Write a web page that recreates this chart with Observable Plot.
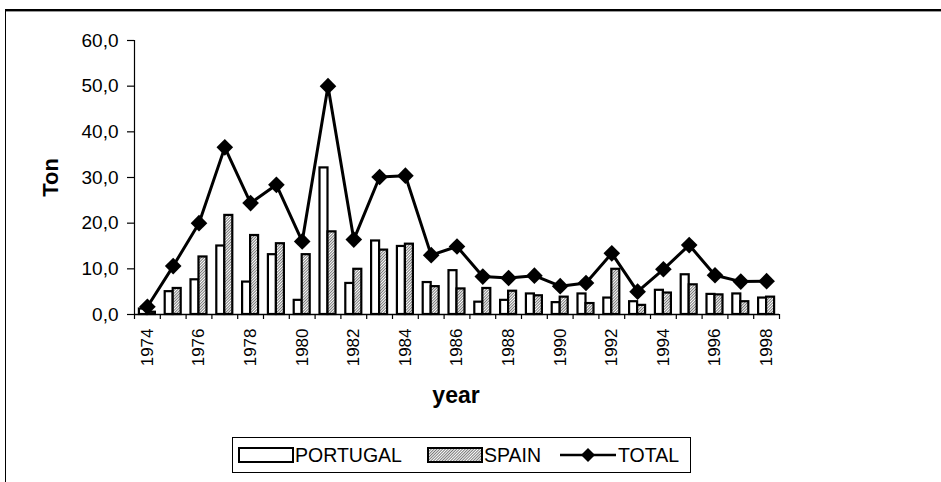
<!DOCTYPE html>
<html>
<head>
<meta charset="utf-8">
<script src="https://cdn.jsdelivr.net/npm/d3@7"></script>
<script src="https://cdn.jsdelivr.net/npm/@observablehq/plot@0.6"></script>
<style>
  html, body { margin: 0; padding: 0; background: #fff; }
  #wrap { position: relative; width: 941px; height: 482px; overflow: hidden; font-family: "Liberation Sans", Arial, sans-serif; }
  #frame { position: absolute; left: 5px; top: 9px; width: 960px; height: 500px; border-top: 2px solid #000; border-left: 1.5px solid #000; box-shadow: 0 1px 0 #999 inset; }
  #chart { position: absolute; left: 0; top: 0; }
  #legend { position: absolute; left: 232px; top: 437px; width: 457px; height: 34px; border: 1px solid #000; background: #fff; font-size: 19.5px; color: #000; }
  #legend .it { position: absolute; top: 0; height: 34px; display: flex; align-items: center; }
  #legend svg { display: block; }
</style>
</head>
<body>
<div id="wrap">
  <div id="frame"></div>
  <div id="chart"></div>
  <div id="legend">
    <div class="it" style="left:5px">
      <svg width="56" height="16"><rect x="1" y="1" width="54" height="14" fill="#fff" stroke="#000" stroke-width="2"/></svg>
      <span style="margin-left:1px">PORTUGAL</span>
    </div>
    <div class="it" style="left:194px">
      <svg width="56" height="16">
        <defs><pattern id="hatchL" width="2" height="2" patternUnits="userSpaceOnUse" patternTransform="rotate(45)"><rect width="2" height="2" fill="#fff"/><line x1="0.5" y1="0" x2="0.5" y2="2" stroke="#777" stroke-width="1"/></pattern></defs>
        <rect x="1" y="1" width="54" height="14" fill="url(#hatchL)" stroke="#000" stroke-width="2"/></svg>
      <span style="margin-left:1px">SPAIN</span>
    </div>
    <div class="it" style="left:327px">
      <svg width="56" height="20"><line x1="0" y1="10" x2="56" y2="10" stroke="#000" stroke-width="2.5"/><path d="M28,3 L35,10 L28,17 L21,10Z" fill="#000"/></svg>
      <span style="margin-left:2px">TOTAL</span>
    </div>
  </div>
</div>
<script>
const years = [1974,1975,1976,1977,1978,1979,1980,1981,1982,1983,1984,1985,1986,1987,1988,1989,1990,1991,1992,1993,1994,1995,1996,1997,1998];
const portugal = [1.2,5.0,7.6,15.0,7.1,13.1,3.1,32.1,6.8,16.1,14.9,7.0,9.6,2.7,3.1,4.5,2.6,4.5,3.6,2.8,5.3,8.7,4.4,4.5,3.6];
const spain = [0.5,5.7,12.6,21.7,17.3,15.5,13.1,18.1,9.9,14.1,15.4,6.1,5.6,5.7,5.1,4.1,3.8,2.4,9.9,2.0,4.7,6.5,4.3,2.8,3.8];
const total = [1.7,10.6,20.0,36.6,24.4,28.4,16.0,50.0,16.4,30.1,30.4,13.0,14.9,8.3,8.0,8.5,6.2,6.9,13.4,5.0,9.9,15.2,8.6,7.2,7.3];
const yTicks = [0,10,20,30,40,50,60];
const xLabelYears = [1974,1976,1978,1980,1982,1984,1986,1988,1990,1992,1994,1996,1998];

const half = 0.31;
const bounds = years.map(y => y - 0.5).concat([years[years.length - 1] + 0.5]);
const font = "'Liberation Sans', Arial, sans-serif";

const chart = Plot.plot({
  width: 941,
  height: 420,
  marginLeft: 134,
  marginRight: 162,
  marginTop: 40,
  marginBottom: 106,
  style: {background: "none", fontFamily: font, color: "#000"},
  x: {type: "linear", domain: [years[0] - 0.5, years[years.length - 1] + 0.5], axis: null},
  y: {domain: [0, 60], axis: null},
  marks: [
    Plot.rect(years, {x1: d => d - half, x2: d => d, y1: 0, y2: (d, i) => portugal[i], fill: "white", stroke: "black", strokeWidth: 2.2}),
    Plot.rect(years, {x1: d => d, x2: d => d + half, y1: 0, y2: (d, i) => spain[i], fill: "url(#hatch)", stroke: "black", strokeWidth: 2.2}),
    Plot.ruleY([0], {stroke: "black", strokeWidth: 1.5}),
    Plot.ruleX([years[0] - 0.5], {y1: 0, y2: 60, stroke: "black", strokeWidth: 1.2}),
    Plot.axisY({ticks: yTicks, tickSize: 7, tickPadding: 9, tickFormat: d => d.toFixed(1).replace(".", ","), label: null, fontSize: 19, strokeWidth: 1.2}),
    Plot.axisX({ticks: bounds, tickSize: 5, tickFormat: () => "", label: null, strokeWidth: 1.2}),
    Plot.axisX({ticks: xLabelYears, tickSize: 0, tickPadding: 14, tickRotate: -90, tickFormat: d => String(d), label: null, fontSize: 17}),
    Plot.line(years, {x: d => d, y: (d, i) => total[i], stroke: "black", strokeWidth: 3}),
    Plot.dot(years, {x: d => d, y: (d, i) => total[i], symbol: "diamond2", r: 7.5, fill: "black", stroke: "none"}),
    Plot.text(["Ton"], {frameAnchor: "left", dx: -84, rotate: -90, fontSize: 22, fontWeight: "bold", lineAnchor: "middle", textAnchor: "middle"}),
    Plot.text(["year"], {frameAnchor: "bottom", dx: -1, dy: 81, fontSize: 23, fontWeight: "bold", lineAnchor: "middle", textAnchor: "middle"})
  ]
});

const ns = "http://www.w3.org/2000/svg";
const defs = document.createElementNS(ns, "defs");
defs.innerHTML = '<pattern id="hatch" width="2" height="2" patternUnits="userSpaceOnUse" patternTransform="rotate(45)"><rect width="2" height="2" fill="#fff"/><line x1="0.5" y1="0" x2="0.5" y2="2" stroke="#777" stroke-width="1"/></pattern>';
chart.insertBefore(defs, chart.firstChild);
document.getElementById("chart").appendChild(chart);
</script>
</body>
</html>
